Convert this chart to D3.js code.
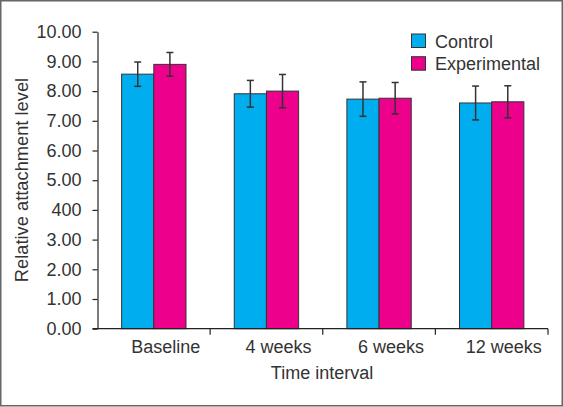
<!DOCTYPE html>
<html><head><meta charset="utf-8">
<script src="https://cdn.jsdelivr.net/npm/d3@7"></script>
<style>body{margin:0;background:#fff}svg{display:block}text{font-family:"Liberation Sans",Arial,sans-serif;fill:#333}</style>
</head><body><svg id="c" width="563" height="407"></svg>
<script>
const categories = ["Baseline","4 weeks","6 weeks","12 weeks"];
const seriesNames = ["Control","Experimental"];
const controlValues = [8.57, 7.91, 7.73, 7.60];
const controlErrors = [0.41, 0.45, 0.58, 0.57];
const experimentalValues = [8.90, 8.00, 7.76, 7.64];
const experimentalErrors = [0.40, 0.56, 0.53, 0.54];
const yTickValues = [0,1,2,3,4,5,6,7,8,9,10];
const yTickLabels = ["0.00","1.00","2.00","3.00","400","5.00","6.00","7.00","8.00","9.00","10.00"];
const colors = ["#00AEEF","#EC008C"];

const svg = d3.select("#c");
svg.append("rect").attr("x",0.75).attr("y",0.75).attr("width",561.5).attr("height",405).attr("fill","#fff").attr("stroke","#666").attr("stroke-width",1.5);

const mLeft = 97.5, mRight = 548, mTop = 31.7, mBottom = 328.7;
const y = d3.scaleLinear().domain([0,10]).range([mBottom, mTop]);
const x0 = d3.scaleBand().domain(categories).range([mLeft, mRight]).padding(0);
const x1 = d3.scaleBand().domain(seriesNames).range([0, x0.bandwidth()]).paddingInner(0).paddingOuter(0.75);

const data = categories.map((c,i)=>({cat:c, vals:[
  {s:"Control", v:controlValues[i], e:controlErrors[i], col:colors[0]},
  {s:"Experimental", v:experimentalValues[i], e:experimentalErrors[i], col:colors[1]}]}));

const g = svg.append("g");
const grp = g.selectAll("g.cat").data(data).join("g").attr("class","cat").attr("transform",d=>`translate(${x0(d.cat)},0)`);
grp.selectAll("rect").data(d=>d.vals).join("rect")
  .attr("x",d=>x1(d.s)).attr("y",d=>y(d.v)).attr("width",x1.bandwidth()).attr("height",d=>y(0)-y(d.v))
  .attr("fill",d=>d.col).attr("stroke","#333").attr("stroke-width",1);
const eb = grp.selectAll("g.err").data(d=>d.vals).join("g").attr("class","err").attr("stroke","#333").attr("stroke-width",1.5);
eb.append("line").attr("x1",d=>x1(d.s)+x1.bandwidth()/2).attr("x2",d=>x1(d.s)+x1.bandwidth()/2).attr("y1",d=>y(d.v+d.e)).attr("y2",d=>y(d.v-d.e));
eb.append("line").attr("x1",d=>x1(d.s)+x1.bandwidth()/2-3.5).attr("x2",d=>x1(d.s)+x1.bandwidth()/2+3.5).attr("y1",d=>y(d.v+d.e)).attr("y2",d=>y(d.v+d.e));
eb.append("line").attr("x1",d=>x1(d.s)+x1.bandwidth()/2-3.5).attr("x2",d=>x1(d.s)+x1.bandwidth()/2+3.5).attr("y1",d=>y(d.v-d.e)).attr("y2",d=>y(d.v-d.e));

// y axis
const ya = svg.append("g").attr("transform",`translate(${mLeft},0)`)
  .call(d3.axisLeft(y).tickValues(yTickValues).tickFormat((d,i)=>yTickLabels[i]).tickSize(5).tickSizeOuter(0).tickPadding(11));
ya.select(".domain").attr("stroke","#222").attr("stroke-width",1.2);
ya.selectAll(".tick line").attr("stroke","#222").attr("stroke-width",1.2);
ya.selectAll("text").attr("font-size","18px").attr("fill","#333").attr("font-family","Liberation Sans, Arial, sans-serif");

// x axis
const xa = svg.append("g").attr("transform",`translate(0,${mBottom})`);
xa.append("line").attr("x1",mLeft-5).attr("x2",mRight).attr("y1",0).attr("y2",0).attr("stroke","#222").attr("stroke-width",1.2);
const bounds = categories.map(c=>x0(c)+x0.bandwidth());
xa.selectAll("line.t").data(bounds).join("line").attr("class","t").attr("x1",d=>d).attr("x2",d=>d).attr("y1",0).attr("y2",6).attr("stroke","#222").attr("stroke-width",1.2);
xa.selectAll("text").data(categories).join("text").attr("x",d=>x0(d)+x0.bandwidth()/2+12).attr("y",24.5).attr("text-anchor","middle").attr("font-size","18px").text(d=>d);

svg.append("text").attr("x",322).attr("y",379).attr("text-anchor","middle").attr("font-size","18px").text("Time interval");
svg.append("text").attr("transform","translate(27.5,180) rotate(-90)").attr("text-anchor","middle").attr("font-size","18.3px").text("Relative attachment level");

// legend
const lg = svg.append("g").attr("transform","translate(411.5,34)");
seriesNames.forEach((s,i)=>{
  lg.append("rect").attr("x",0).attr("y",i*22.7).attr("width",14).attr("height",13.5).attr("fill",colors[i]).attr("stroke","#333").attr("stroke-width",1);
  lg.append("text").attr("x",23.5).attr("y",i*22.7+13.5).attr("font-size","18px").text(s);
});
</script></body></html>
